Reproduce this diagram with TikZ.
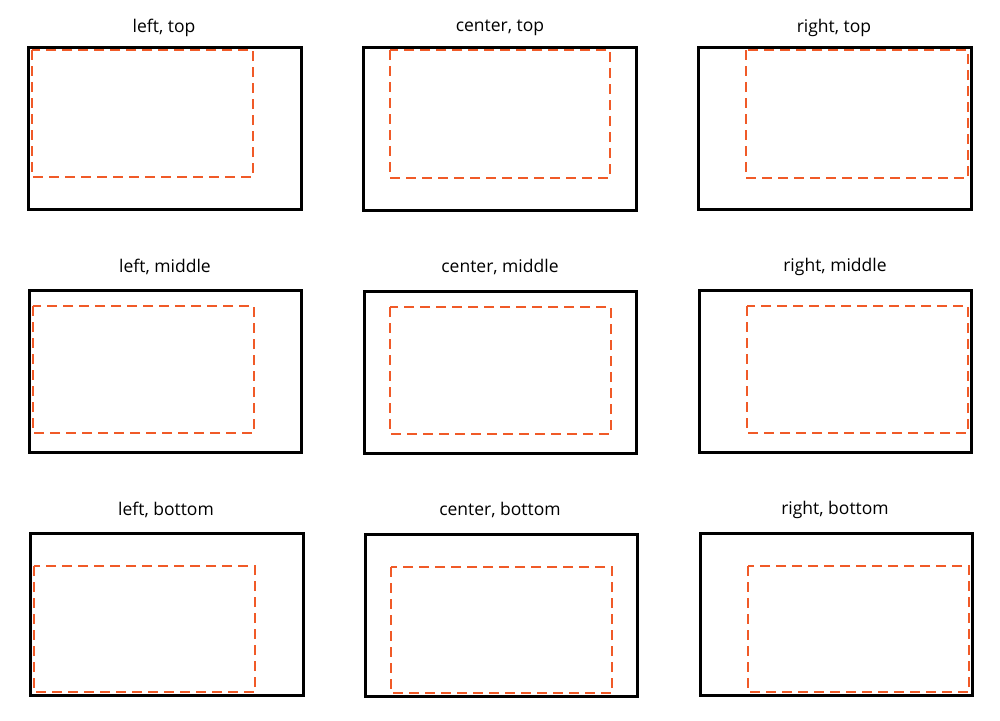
\documentclass[tikz,border=0pt]{standalone}
\usepackage{fontspec}
\setmainfont{Open Sans}
\begin{document}
\begin{tikzpicture}[x=1pt,y=-1pt,
  outer/.style={draw=black,line width=3pt},
  inner/.style={draw=orng,line width=2pt,dash pattern=on 10pt off 6pt},
  lab/.style={font=\fontsize{17.5}{20}\selectfont,anchor=center}]
\definecolor{orng}{HTML}{F05A28}
\useasboundingbox (0,0) rectangle (1000,720);
% row 1
\draw[outer] (28,47) rectangle (301,209);
\draw[inner] (32,50) rectangle (253,177);
\node[lab] (l1) at (164,28) {left, top};
\draw[outer] (363,47) rectangle (636,210);
\draw[inner] (390,50) rectangle (610,178);
\node[lab] (l2) at (500,28) {center, top};
\draw[outer] (698,47) rectangle (971,209);
\draw[inner] (746,50) rectangle (968,178);
\node[lab] (l3) at (834,28) {right, top};
% row 2
\draw[outer] (29,290) rectangle (301,452);
\draw[inner] (33,306) rectangle (254,433);
\node[lab] (l4) at (165,267) {left, middle};
\draw[outer] (364,291) rectangle (636,453);
\draw[inner] (390,307) rectangle (611,434);
\node[lab] (l5) at (500,267) {center, middle};
\draw[outer] (699,290) rectangle (971,452);
\draw[inner] (747,306) rectangle (968,433);
\node[lab] (l6) at (835,267) {right, middle};
% row 3
\draw[outer] (30,533) rectangle (303,695);
\draw[inner] (34,566) rectangle (255,692);
\node[lab] (l7) at (166,510) {left, bottom};
\draw[outer] (365,534) rectangle (637,696);
\draw[inner] (391,567) rectangle (612,693);
\node[lab] (l8) at (500,510) {center, bottom};
\draw[outer] (700,533) rectangle (972,695);
\draw[inner] (748,566) rectangle (969,692);
\node[lab] (l9) at (835,510) {right, bottom};
\end{tikzpicture}
\end{document}
